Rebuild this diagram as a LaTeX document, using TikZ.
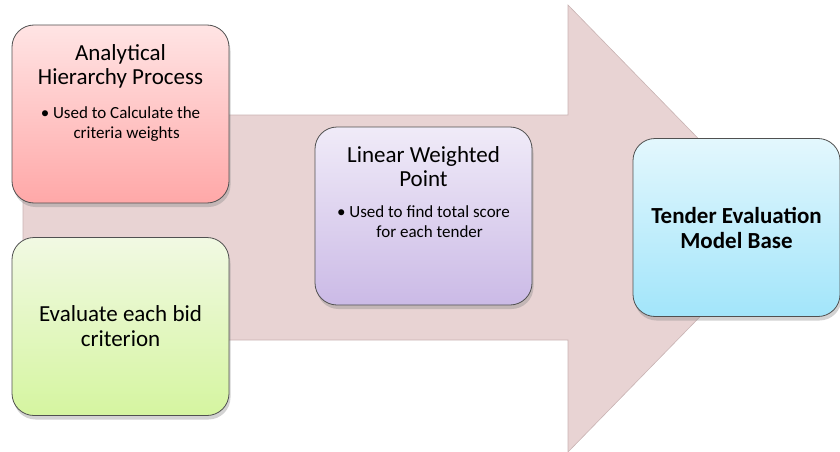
\documentclass[tikz,border=0pt]{standalone}
\usepackage{fontspec}
\setmainfont{Carlito}
\usetikzlibrary{shadows}
\definecolor{arrowfill}{HTML}{E8D3D3}
\definecolor{arrowedge}{HTML}{C9B3B3}
\definecolor{boxedge}{HTML}{505050}
\definecolor{ahptop}{HTML}{FFE4E4}
\definecolor{ahpbot}{HTML}{FFA8A8}
\definecolor{bidtop}{HTML}{F1F9E3}
\definecolor{bidbot}{HTML}{D5F5A0}
\definecolor{lwptop}{HTML}{F0EBF8}
\definecolor{lwpbot}{HTML}{CBBAE6}
\definecolor{temtop}{HTML}{E3F7FD}
\definecolor{tembot}{HTML}{A2E5FA}
\newcommand{\bulletline}[2]{\fontsize{17}{20}\selectfont\begin{tabular}{@{}l@{\ }c@{}}\textbullet & #1\\ & #2\end{tabular}}
\begin{document}
\begin{tikzpicture}[x=1pt, y=-1pt,
    box/.style={draw=boxedge, line width=.8pt, rounded corners=22pt,
        minimum width=217pt, minimum height=178pt, inner xsep=2pt, inner ysep=20pt,
        drop shadow={shadow xshift=1.5pt, shadow yshift=-4pt, opacity=.35}},
    boxtext/.style={font=\fontsize{23}{25}\selectfont, align=center}]
    \useasboundingbox (0,0) rectangle (840,452);
    \begin{scope}
    \clip (0,0) rectangle (840,452);
    \fill [arrowfill, draw=arrowedge, line width=.6pt] (23,115)--(568,115)--(568,5)--(786,228.5)--(568,452)--(568,340)--(23,340)--cycle;
    \end{scope}
    \node [box, top color=ahptop, bottom color=ahpbot] (ahp) at (120.5,114)
        {\parbox[t][138pt][t]{213pt}{\centering\fontsize{23}{24}\selectfont Analytical\\Hierarchy Process\\[15pt]
        \bulletline{Used to Calculate the}{criteria weights}}};
    \node [box, boxtext, top color=bidtop, bottom color=bidbot] (bid) at (120.5,326.5)
        {Evaluate each bid\\criterion};
    \node [box, top color=lwptop, bottom color=lwpbot] (lwp) at (423.5,216)
        {\parbox[t][138pt][t]{213pt}{\centering\fontsize{23}{24}\selectfont Linear Weighted\\Point\\[15pt]
        \bulletline{Used to find total score}{for each tender}}};
    \node [box, boxtext, font=\fontsize{23}{25}\selectfont\bfseries, minimum width=207pt,
        top color=temtop, bottom color=tembot] (tem) at (736.5,227.5)
        {Tender Evaluation\\Model Base};
\end{tikzpicture}
\end{document}
